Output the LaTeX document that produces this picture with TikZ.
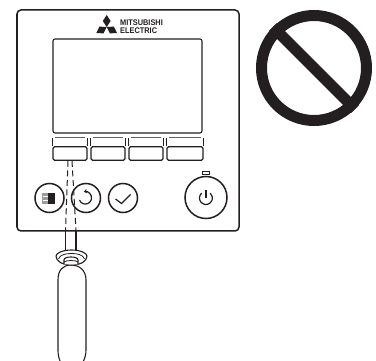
\documentclass[tikz,border=0pt]{standalone}
\usepackage{fontspec}
\usepackage{xcolor}
\usepackage{tikz}
\usetikzlibrary{arrows.meta,positioning}
\newfontfamily\brandfont[FakeStretch=0.9]{Liberation Sans}
\definecolor{ink}{RGB}{35,31,32}

\begin{document}
\begin{tikzpicture}[
      x=1pt, y=-1pt,
      outline/.style={draw=ink, line width=1.5pt},
      softkey/.style={rectangle, rounded corners=1.5pt, draw=ink, line width=1.3pt, fill=white, inner sep=0pt, minimum height=13.5pt},
      roundkey/.style={circle, outline, fill=white, inner sep=0pt, minimum size=29pt},
      thin line/.style={draw=ink, line width=0.8pt},
      glyph/.style={draw=ink, line width=1.2pt},
      guide/.style={draw=ink, line width=1pt, dash pattern=on 6pt off 3.5pt},
      tool/.style={draw=ink, line width=1.1pt, fill=white}
    ]
      \useasboundingbox (0,0) rectangle (376,361);
      % panel and screen
      \node[rectangle, outline, rounded corners=4pt, minimum width=222pt, minimum height=221pt, inner sep=0pt] (panel) at (128,120.5) {};
      \node[rectangle, draw=ink, line width=1.1pt, rounded corners=2pt, minimum width=149pt, minimum height=94pt, inner sep=0pt] (screen) at (127.5,86) {};
      % logo
      \coordinate (logocentre) at (106.7,27);
      \foreach \ang in {0,120,240}
        \fill[ink, rotate around={\ang:(logocentre)}] (logocentre) -- ++(3.9,-6) -- ++(-3.9,-6) -- ++(-3.9,6) -- cycle;
      \node[anchor=north west, inner sep=0pt, align=left, text=ink, font=\brandfont\bfseries\fontsize{8.2}{7.6}\selectfont] (brand) at (120,19.5) {MITSUBISHI\\ELECTRIC};
      % soft keys
      \foreach \name/\cx/\keywidth in {keya/70/34, keyb/108/34, keyc/146/34, keyd/185/36} {
        \node[softkey, minimum width=\keywidth pt] (\name) at (\cx,153.5) {};
        \draw[thin line] ([xshift=0.3pt]\name.north west) -- ++(0,-8.5);
        \draw[thin line] ([xshift=-0.3pt]\name.north east) -- ++(0,-8.5);
        \draw[thin line, draw=ink!70] ([xshift=2.5pt,yshift=8.5pt]\name.north west) -- ([xshift=-2.5pt,yshift=8.5pt]\name.north east);
      }
      % round keys
      \node[roundkey] (menu) at (49.5,198) {};
      \node[roundkey] (back) at (86,198) {};
      \node[roundkey] (check) at (123,198) {};
      \node[roundkey, minimum size=42pt] (power) at (206,197.5) {};
      \node[rectangle, thin line, minimum width=7pt, minimum height=3pt, inner sep=0pt] (led) at (205.5,173) {};
      % key glyphs
      \fill[ink!45] (42,193) rectangle (48,204);
      \fill[ink] (48,193) rectangle (55,204);
      \draw[white, line width=0.7pt] (43,196.5) -- (47.5,196.5) (43,200.3) -- (47.5,200.3);
      \draw[glyph, -{Stealth[length=3.5pt,width=4.5pt]}] (79.5,200) arc (160:-105:6.2);
      \draw[glyph] (115.5,199) -- (121.5,203.5) -- (130.5,194.5);
      \draw[glyph] (206,190) -- (206,198);
      \draw[glyph] (201.7,193.1) arc (229:-49:6.5);
      % screwdriver
      \coordinate (tipa) at (68,161);
      \coordinate (tipb) at (72,161);
      \coordinate (shafta) at (65.5,231);
      \coordinate (shaftb) at (76,231);
      \coordinate (shaftc) at (65.5,253);
      \coordinate (shaftd) at (76,253);
      \draw[guide] (tipa) -- (shafta);
      \draw[guide] (tipb) -- (shaftb);
      \draw[tool] (shafta) -- (shaftc);
      \draw[tool] (shaftb) -- (shaftd);
      \draw[tool] (60,361) .. controls (58.5,357) and (58,354) .. (58,350) -- (58,280) .. controls (58,270) and (63,265) .. (71,265) .. controls (79,265) and (86,270) .. (86,280) -- (86,350) .. controls (86,354) and (85,358) .. (83.5,361);
      \draw[tool] (56,256) .. controls (56,253) and (63,250) .. (71.5,250) .. controls (80,250) and (87,253) .. (87,256) .. controls (87,261) and (81,265) .. (71.5,265) .. controls (62,265) and (56,261) .. (56,256) -- cycle;
      \draw[thin line] (58.5,259) .. controls (60,254.5) and (66,253.5) .. (71.5,253.5) .. controls (77,253.5) and (83,254.5) .. (84.5,259);
      \draw[tool] (64,264.5) -- (64,260) .. controls (64,258) and (67,257) .. (71,257) .. controls (75,257) and (78,258) .. (78,260) -- (78,264.5);
      \draw[thin line] (64,262) .. controls (66,260) and (76,260) .. (78,262);
      % prohibition sign
      \node[circle, draw=ink, line width=11pt, inner sep=0pt, minimum size=105pt, fill=none] (nosign) at (314,68) {};
      \draw[draw=ink, line width=11pt] (nosign.north west) -- (nosign.south east);
    \end{tikzpicture}
\end{document}
